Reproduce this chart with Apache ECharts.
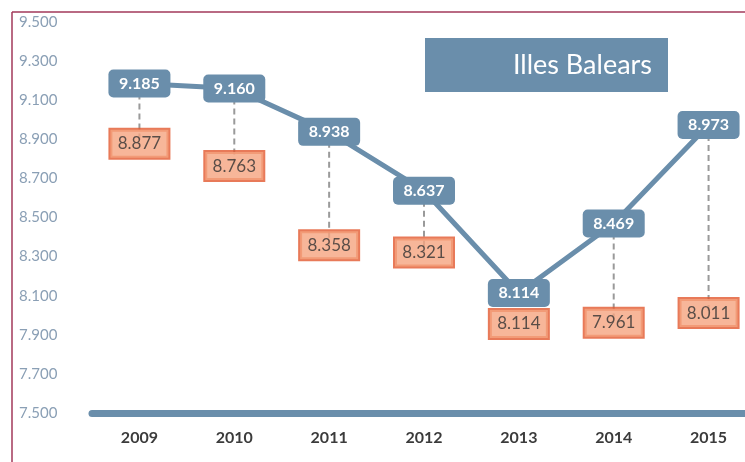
<!DOCTYPE html>
<html>
<head>
<meta charset="utf-8">
<script src="https://cdn.jsdelivr.net/npm/echarts@6/dist/echarts.min.js"></script>
<style>html,body{margin:0;padding:0;background:#fff;}#c{width:745px;height:462px;}</style>
</head>
<body>
<div id="c"></div>
<script>
const categories = ['2009', '2010', '2011', '2012', '2013', '2014', '2015'];
const blueValues = [9185, 9160, 8938, 8637, 8114, 8469, 8973];
const orangeValues = [8877, 8763, 8358, 8321, 8114, 7961, 8011];
const titleText = 'Illes Balears';

const fmt = v => String(Math.round(v)).replace(/(\d)(\d{3})$/, '$1.$2');
const BLUE = '#6a8eab';
const FONT = 'Lato, "Open Sans", sans-serif';

const chart = echarts.init(document.getElementById('c'));
chart.setOption({
  animation: false,
  grid: { left: 92, width: 664, top: 22, bottom: 49, outerBoundsMode: 'none', containLabel: false },
  xAxis: {
    type: 'category',
    data: categories,
    axisLine: { show: true, lineStyle: { color: BLUE, width: 7 } },
    axisTick: { show: false },
    axisLabel: { color: '#3b3b3b', fontSize: 16, fontWeight: 'bold', fontFamily: FONT, margin: 17 }
  },
  yAxis: {
    type: 'value',
    min: 7500, max: 9500, interval: 200,
    axisLine: { show: false },
    axisTick: { show: false },
    splitLine: { show: false },
    axisLabel: { color: '#8a9fb5', fontSize: 15, fontFamily: FONT, align: 'left', margin: 73, formatter: fmt }
  },
  graphic: [
    { type: 'line', shape: { x1: 12, y1: 12, x2: 745, y2: 12 }, style: { stroke: '#a2385a', lineWidth: 1.5 }, z: 100 },
    { type: 'line', shape: { x1: 12, y1: 12, x2: 12, y2: 462 }, style: { stroke: '#a2385a', lineWidth: 1.5 }, z: 100 },
    { type: 'rect', shape: { x: 425, y: 38, width: 243, height: 54 }, style: { fill: BLUE }, z: 100 },
    { type: 'text', x: 652, y: 65, style: { text: titleText, fill: '#fff', fontSize: 27, fontFamily: FONT, align: 'right', verticalAlign: 'middle' }, z: 101 }
  ],
  series: [
    {
      type: 'custom',
      z: 1,
      data: categories.map((c, i) => [i, blueValues[i], orangeValues[i]]),
      encode: { x: 0, y: [1, 2] },
      renderItem: function (params, api) {
        const i = api.value(0);
        const p1 = api.coord([i, api.value(1)]);
        const p2 = api.coord([i, api.value(2)]);
        return { type: 'line', shape: { x1: p1[0], y1: p1[1], x2: p2[0], y2: p2[1] },
                 style: { stroke: '#9a9a9a', lineWidth: 2, lineDash: [6, 4] } };
      }
    },
    {
      type: 'line',
      z: 2,
      data: blueValues,
      symbol: 'circle',
      symbolSize: 2,
      itemStyle: { color: BLUE },
      lineStyle: { color: BLUE, width: 5 },
      label: {
        show: true, position: 'inside', formatter: p => fmt(p.value),
        color: '#fff', fontSize: 16, fontWeight: 'bold', fontFamily: FONT,
        backgroundColor: BLUE, borderRadius: 5, padding: [6, 9], width: 44, height: 16, lineHeight: 16, align: 'center'
      }
    },
    {
      type: 'scatter',
      z: 3,
      symbolSize: 1,
      itemStyle: { color: 'rgba(0,0,0,0)' },
      data: orangeValues.map((v, i) => i === 4 ? { value: v, label: { offset: [0, 31] } } : v),
      label: {
        show: true, position: 'inside', formatter: p => fmt(p.value),
        color: '#333', fontSize: 17, fontFamily: FONT,
        backgroundColor: '#f5a47f', borderColor: '#e2592f', borderWidth: 2,
        padding: [5, 7], width: 44, height: 18, lineHeight: 18, align: 'center'
      }
    }
  ]
});
</script>
</body>
</html>
